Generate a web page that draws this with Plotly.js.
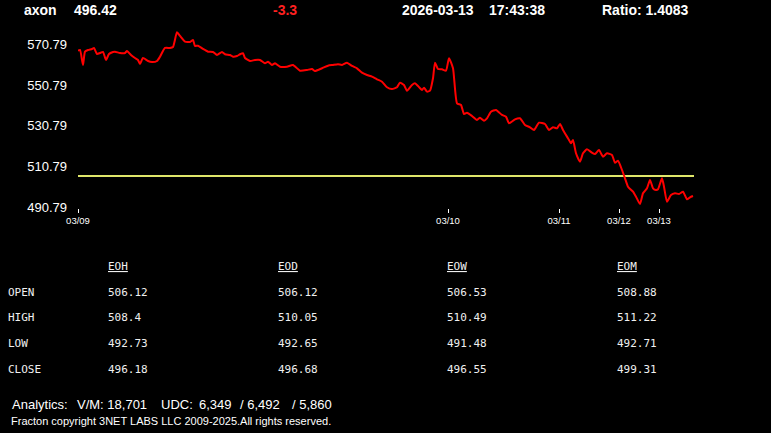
<!DOCTYPE html>
<html><head><meta charset="utf-8">
<script src="https://cdn.plot.ly/plotly-3.0.1.min.js"></script>
<style>html,body{margin:0;padding:0;background:#000;overflow:hidden}</style>
</head><body><div id="chart" style="width:771px;height:433px"></div>
<script>
// ---- header values ----
const symbol = 'axon';
const lastPrice = '496.42';
const change = '-3.3';
const dateStr = '2026-03-13';
const timeStr = '17:43:38';
const ratio = '1.4083';

// ---- price series (bar index, price) ----
const bars = [0,2,5,7,10,14,16,19,22,25,28,31,35,37,42,47,49,53,57,60,62,65,70,74,79,82,87,92,95,99,102,107,112,115,117,120,125,130,135,139,144,147,152,155,159,162,165,167,172,177,182,187,190,194,197,202,209,215,222,229,234,237,244,250,255,260,264,269,274,279,284,289,294,299,304,309,314,319,322,326,329,334,337,340,344,346,349,352,355,357,360,364,368,371,375,379,383,386,389,394,399,402,406,409,413,418,424,428,431,437,442,447,452,456,461,467,471,475,479,482,485,490,493,495,498,502,505,509,514,517,521,525,529,534,537,540,544,547,550,555,558,562,565,569,572,575,578,580,584,586,589,593,597,601,605,609,612,615];
const prices = [567.74,568.09,560.72,567.25,568.09,568.58,569.07,566.12,566.61,567.10,563.17,566.12,567.10,567.25,566.61,566.61,567.60,565.63,564.16,563.17,561.21,564.16,562.68,562.19,562.68,564.79,569.07,569.07,569.56,576.79,574.97,572.17,572.02,573.00,570.05,570.20,568.58,567.25,567.10,565.63,567.10,565.97,565.63,564.79,565.14,565.97,566.47,564.16,562.68,563.17,563.17,561.55,562.34,560.72,561.55,559.88,559.88,560.72,557.92,558.26,558.75,557.77,559.09,560.37,560.72,561.06,560.72,561.85,560.22,559.09,556.93,555.80,554.97,553.69,552.51,549.76,548.92,549.76,552.02,550.89,548.09,550.89,551.72,550.40,548.43,549.56,547.60,548.09,554.18,561.85,558.75,558.60,557.92,564.01,559.09,541.90,541.06,536.64,537.28,535.65,533.69,534.82,533.35,534.52,537.77,538.60,536.15,535.31,532.07,534.03,534.52,531.23,530.10,528.78,532.36,531.72,528.78,530.10,529.61,531.72,528.78,524.70,522.24,523.86,517.33,513.20,517.33,519.29,517.62,516.98,518.95,515.66,517.33,516.49,512.71,513.69,509.12,505.04,500.91,498.46,496.00,492.41,497.67,500.13,504.21,500.13,499.29,499.64,505.04,500.91,493.54,496.83,497.67,497.33,498.46,494.72,495.70,496.34];
const refLevel = 506.12;
const lastBar = 616;

// ---- axes ----
const dateTickBars = [0, 370, 481, 541, 581];
const dateTickLabels = ['03/09', '03/10', '03/11', '03/12', '03/13'];
const priceTicks = [490.79, 510.79, 530.79, 550.79, 570.79];

// ---- table ----
const tableCols = ['EOH', 'EOD', 'EOW', 'EOM'];
const tableRows = ['OPEN', 'HIGH', 'LOW', 'CLOSE'];
const eoh = ['506.12', '508.4', '492.73', '496.18'];
const eod = ['506.12', '510.05', '492.65', '496.68'];
const eow = ['506.53', '510.49', '491.48', '496.55'];
const eom = ['508.88', '511.22', '492.71', '499.31'];

// ---- footer ----
const vm = '18,701';
const udc = ['6,349', '6,492', '5,860'];
const copyright = 'Fracton copyright 3NET LABS LLC 2009-2025.All rights reserved.';

// ---- layout geometry (pixels) ----
const W = 771, H = 433, L = 78, R = 694, T = 30, B = 208;
const px = x => (x - L) / (R - L);
const py = y => (B - y) / (B - T);

const ann = [];
function txt(x, y, text, font) {
  ann.push({xref: 'paper', yref: 'paper', x: px(x), y: py(y), xanchor: 'left', yanchor: 'middle',
    text: text, showarrow: false, borderpad: 0, font: font});
}
const hdr = {family: 'Liberation Sans, Arial, sans-serif', size: 14, color: '#ffffff', weight: 'bold'};
txt(23, 10, '<b>' + symbol + '</b>', hdr);
txt(73, 10, '<b>' + lastPrice + '</b>', hdr);
txt(272, 10, '<b>' + change + '</b>', Object.assign({}, hdr, {color: '#ff2020'}));
txt(401, 10, '<b>' + dateStr + '</b>', hdr);
txt(488, 10, '<b>' + timeStr + '</b>', hdr);
txt(601, 10, '<b>Ratio: ' + ratio + '</b>', hdr);

const mono = {family: 'DejaVu Sans Mono, monospace', size: 11, color: '#f0f0f0'};
const colX = [107, 277, 446, 616];
const rowY = [292, 317, 343, 369];
const colData = [eoh, eod, eow, eom];
tableCols.forEach((c, i) => txt(colX[i], 266, '<u>' + c + '</u>', mono));
tableRows.forEach((r, j) => {
  txt(7, rowY[j], r, mono);
  colData.forEach((col, i) => txt(colX[i], rowY[j], col[j], mono));
});

const foot = {family: 'Liberation Sans, Arial, sans-serif', size: 13, color: '#ffffff'};
txt(11, 404, 'Analytics:', foot);
txt(76, 404, 'V/M: ' + vm, foot);
txt(160, 404, 'UDC:', foot);
txt(198, 404, udc[0], foot);
txt(239, 404, '/ ' + udc[1], foot);
txt(291, 404, '/ ' + udc[2], foot);
txt(10, 421, copyright, {family: 'Liberation Sans, Arial, sans-serif', size: 11, color: '#ffffff'});

const traces = [
  {x: [0, lastBar], y: [refLevel, refLevel], mode: 'lines', line: {color: '#dfe66a', width: 2}, hoverinfo: 'skip'},
  {x: bars, y: prices, mode: 'lines', line: {color: '#ff0000', width: 2, shape: 'spline', smoothing: 0.5}, hoverinfo: 'skip'}
];

const layout = {
  width: W, height: H,
  margin: {l: L, r: W - R, t: T, b: H - B, pad: 0},
  paper_bgcolor: '#000000', plot_bgcolor: '#000000',
  showlegend: false, hovermode: false,
  xaxis: {range: [0, lastBar], tickvals: dateTickBars, ticktext: dateTickLabels,
    ticks: 'outside', ticklen: 4, tickwidth: 1, tickcolor: '#ffffff',
    tickfont: {family: 'Liberation Sans, Arial, sans-serif', size: 9.5, color: '#ffffff'},
    showgrid: false, zeroline: false, showline: false, fixedrange: true},
  yaxis: {range: [490.45, 577.9], tickvals: priceTicks, tickformat: '.2f',
    ticks: '', ticklabelstandoff: 10,
    tickfont: {family: 'Liberation Sans, Arial, sans-serif', size: 13, color: '#ffffff'},
    showgrid: false, zeroline: false, showline: false, fixedrange: true},
  annotations: ann
};
Plotly.newPlot('chart', traces, layout, {staticPlot: true, displayModeBar: false});
</script></body></html>
